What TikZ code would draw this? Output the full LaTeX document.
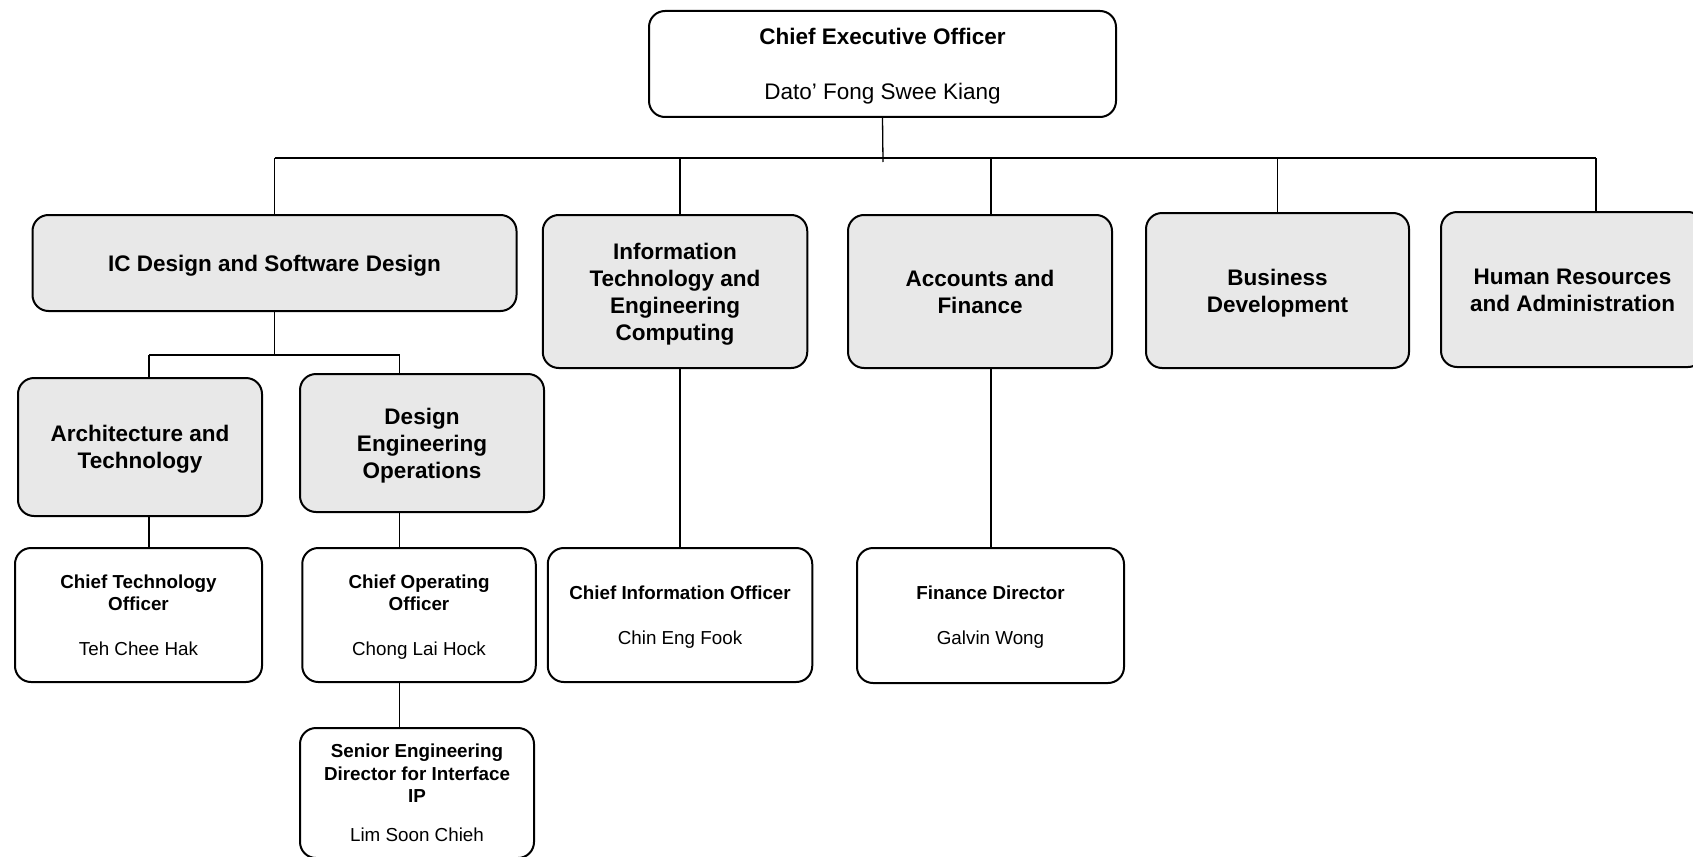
\documentclass[tikz,border=0pt]{standalone}
\usepackage{fontspec}
\setmainfont{Liberation Sans}
\definecolor{boxgray}{HTML}{E8E8E8}
\newcommand\mytop{\rule{0pt}{0.93em}}
\newcommand\mybot{\rule[-0.21em]{0pt}{0.21em}}
\begin{document}
\begin{tikzpicture}[x=1pt,y=-1pt,
  box/.style={draw, line width=2pt, rounded corners=16pt, inner sep=0pt, align=center, text=black},
  gbox/.style={box, fill=boxgray, font=\bfseries\fontsize{22.5pt}{27pt}\selectfont},
  wbox/.style={box, fill=white, font=\fontsize{18.8pt}{22.5pt}\selectfont},
  sz/.style 2 args={minimum width=#1pt, minimum height=#2pt},
  con/.style={line width=1.3pt, draw=black}]
\fill[white] (0,0) rectangle (1693,856);
\useasboundingbox (0,0) rectangle (1693,856);

% top
\node[box, fill=white, sz={467}{106}, font=\fontsize{22.5pt}{27.5pt}\selectfont] (ceo) at (882.5,64)
  {\mytop\textbf{Chief Executive Officer}\\[27.5pt]Dato’ Fong Swee Kiang\mybot};

% departments
\node[gbox, sz={484}{96}] (ic) at (274.5,263) {\mytop IC Design and Software Design\mybot};
\node[gbox, sz={264.5}{153}] (it) at (675,291.5) {\mytop Information\\Technology and\\Engineering\\Computing\mybot};
\node[gbox, sz={264}{153}] (af) at (980,291.5) {\mytop Accounts and\\Finance\mybot};
\node[gbox, sz={263}{155}] (bd) at (1277.5,290.5) {\mytop Business\\Development\mybot};
\node[gbox, sz={263}{155}] (hr) at (1572.5,289.5) {\mytop Human Resources\\and Administration\mybot};

% sub departments
\node[gbox, sz={244}{138}] (arch) at (140,447) {\mytop Architecture and\\Technology\mybot};
\node[gbox, sz={244}{138}] (deo) at (422,443) {\mytop Design\\Engineering\\Operations\mybot};

% officers
\node[wbox, sz={247}{134}] (cto) at (138.5,615) {\mytop\textbf{Chief Technology}\\\textbf{Officer}\\[22.5pt]Teh Chee Hak\mybot};
\node[wbox, sz={233.5}{134}] (coo) at (419,615) {\mytop\textbf{Chief Operating}\\\textbf{Officer}\\[22.5pt]Chong Lai Hock\mybot};
\node[wbox, sz={264.5}{134}] (cio) at (680,615) {\mytop\textbf{Chief Information Officer}\\[22.5pt]Chin Eng Fook\mybot};
\node[wbox, sz={267}{135}] (fd) at (990.5,615.5) {\mytop\textbf{Finance Director}\\[22.5pt]Galvin Wong\mybot};
\node[wbox, sz={234}{130}] (sed) at (417,793) {\mytop\textbf{Senior Engineering}\\\textbf{Director for Interface}\\\textbf{IP}\\[16.5pt]Lim Soon Chieh\mybot};

% connector helpers
\coordinate (bus) at (0,158);
\coordinate (sub) at (0,355);
\coordinate (xIT) at (680,0);
\coordinate (xAF) at (991,0);
\coordinate (xHR) at (1596,0);
\coordinate (xA) at (149,0);
\coordinate (xD) at (399.5,0);
\coordinate (ceoend) at (883,162);

% connectors
\draw[con] (ceo.south) -- (ceoend);
\draw[con] (ic.north |- bus) -- (bus -| xHR);
\draw[con] (ic.north) -- (ic.north |- bus);
\draw[con] (it.north -| xIT) -- (bus -| xIT);
\draw[con] (af.north -| xAF) -- (bus -| xAF);
\draw[con] (bd.north) -- (bd.north |- bus);
\draw[con] (hr.north -| xHR) -- (bus -| xHR);

\draw[con] (ic.south) -- (ic.south |- sub);
\draw[con] (sub -| xA) -- (sub -| xD);
\draw[con] (sub -| xA) -- (arch.north -| xA);
\draw[con] (sub -| xD) -- (deo.north -| xD);
\draw[con] (arch.south -| xA) -- (cto.north -| xA);
\draw[con] (deo.south -| xD) -- (coo.north -| xD);
\draw[con] (coo.south -| xD) -- (sed.north -| xD);
\draw[con] (it.south -| xIT) -- (cio.north -| xIT);
\draw[con] (af.south -| xAF) -- (fd.north -| xAF);
\end{tikzpicture}
\end{document}
